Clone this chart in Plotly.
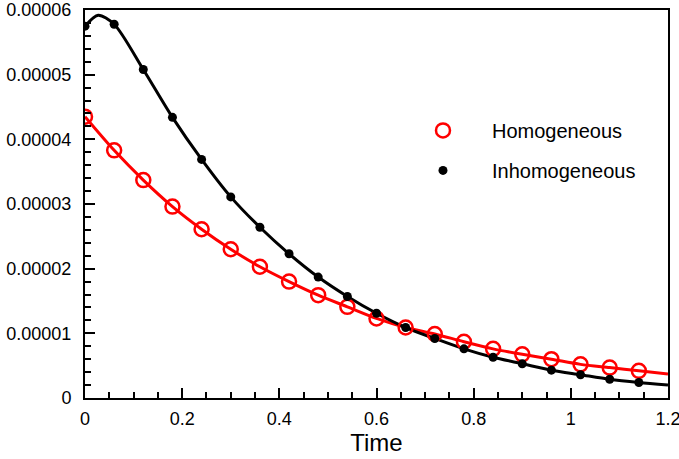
import plotly.graph_objects as go

# Marker times
t_markers = [0, 0.06, 0.12, 0.18, 0.24, 0.30, 0.36, 0.42, 0.48, 0.54, 0.60,
             0.66, 0.72, 0.78, 0.84, 0.90, 0.96, 1.02, 1.08, 1.14]

homogeneous = [4.35e-5, 3.83e-5, 3.37e-5, 2.96e-5, 2.61e-5, 2.30e-5, 2.03e-5,
               1.80e-5, 1.59e-5, 1.41e-5, 1.23e-5, 1.09e-5, 0.99e-5, 0.87e-5,
               0.76e-5, 0.675e-5, 0.60e-5, 0.52e-5, 0.47e-5, 0.42e-5]

inhomogeneous = [5.75e-5, 5.78e-5, 5.08e-5, 4.34e-5, 3.69e-5, 3.11e-5, 2.64e-5,
                 2.23e-5, 1.87e-5, 1.57e-5, 1.31e-5, 1.09e-5, 0.92e-5, 0.76e-5,
                 0.63e-5, 0.53e-5, 0.43e-5, 0.36e-5, 0.29e-5, 0.24e-5]

# Curve readings (markers plus extra points)
hom_curve_t = t_markers + [1.2]
hom_curve_v = homogeneous + [0.37e-5]
inh_curve_t = [0, 0.027] + t_markers[1:] + [1.2]
inh_curve_v = [5.75e-5, 5.92e-5] + inhomogeneous[1:] + [0.20e-5]

y_tickvals = [0, 1e-5, 2e-5, 3e-5, 4e-5, 5e-5, 6e-5]
y_ticktext = ["0", "0.00001", "0.00002", "0.00003", "0.00004", "0.00005", "0.00006"]

font_family = "Liberation Sans, Arial, sans-serif"

fig = go.Figure()
fig.add_trace(go.Scatter(x=hom_curve_t, y=hom_curve_v, mode="lines",
                         line=dict(color="#ff0000", width=3, shape="spline", smoothing=0.8),
                         showlegend=False, hoverinfo="skip"))
fig.add_trace(go.Scatter(x=inh_curve_t, y=inh_curve_v, mode="lines",
                         line=dict(color="#000000", width=3, shape="spline", smoothing=0.8),
                         showlegend=False, hoverinfo="skip"))
fig.add_trace(go.Scatter(x=t_markers, y=homogeneous, mode="markers", name="Homogeneous",
                         legendgroup="a",
                         marker=dict(symbol="circle-open", size=14, color="#ff0000",
                                     line=dict(width=2.5, color="#ff0000"))))
fig.add_trace(go.Scatter(x=t_markers, y=inhomogeneous, mode="markers", name="Inhomogeneous",
                         legendgroup="b",
                         marker=dict(symbol="circle", size=9, color="#000000")))

axis_common = dict(
    showline=True, linecolor="black", linewidth=2, mirror=True,
    ticks="inside", tickcolor="black", tickwidth=2, ticklen=10,
    showgrid=False, zeroline=False, automargin=False,
    ticklabeloverflow="allow",
    tickfont=dict(family=font_family, size=18, color="black"),
)

fig.update_xaxes(range=[0, 1.2], dtick=0.2, tick0=0, tickformat="~g",
                 minor=dict(ticks="inside", dtick=0.05, ticklen=6, tickwidth=1.5, tickcolor="black"),
                 title=dict(text="Time", font=dict(family=font_family, size=24, color="black"), standoff=2),
                 ticklabelstandoff=3,
                 **axis_common)
fig.update_yaxes(range=[0, 6e-5],
                 tickvals=y_tickvals, ticktext=y_ticktext,
                 minor=dict(ticks="inside", dtick=2e-6, ticklen=6, tickwidth=1.5, tickcolor="black"),
                 ticklabelstandoff=8,
                 **axis_common)

fig.update_layout(
    width=679, height=459,
    margin=dict(l=85, r=11, t=10, b=61),
    plot_bgcolor="white", paper_bgcolor="white",
    font=dict(family=font_family, color="black"),
    legend=dict(x=0.53, y=0.74, xanchor="left", yanchor="top",
                bgcolor="rgba(0,0,0,0)", itemwidth=88, tracegroupgap=11,
                traceorder="grouped",
                font=dict(family=font_family, size=20, color="black")),
)

fig.write_html("out.html", config={"displayModeBar": False},
               post_script="document.body.style.margin='0';")
